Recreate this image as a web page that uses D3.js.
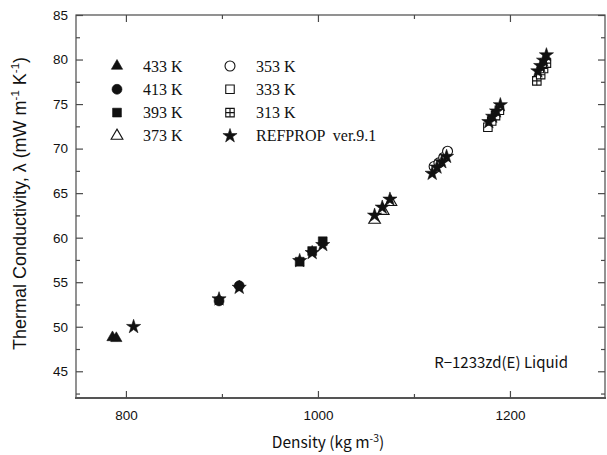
<!DOCTYPE html>
<html>
<head>
<meta charset="utf-8">
<script src="https://cdn.jsdelivr.net/npm/d3@7"></script>
<style>
  body { margin: 0; background: #fff; }
  svg { display: block; }
</style>
</head>
<body>
<script>
// measured points, [density kg/m3, lambda mW/(m K)]
const k433 = [[786, 48.8], [790, 48.7]];
const k413 = [[897, 52.9], [918, 54.6]];
const k393 = [[981, 57.3], [994, 58.5], [1005, 59.6]];
const k373 = [[1059, 62.0], [1068, 63.0], [1076, 64.0]];
const k353 = [[1121, 68.0], [1126, 68.4], [1131, 69.0], [1135, 69.7]];
const k333 = [[1177, 72.4], [1181, 73.1], [1185, 73.7], [1189, 74.3]];
const k313 = [[1228, 77.6], [1232, 78.3], [1235, 79.0], [1238, 79.6]];
// REFPROP ver.9.1 values
const refprop = [
  [808, 50.0], [897, 53.1], [918, 54.4],
  [981, 57.4], [994, 58.3], [1005, 59.2],
  [1059, 62.5], [1067, 63.4], [1075, 64.3],
  [1119, 67.2], [1124, 67.9], [1129, 68.5], [1134, 69.1],
  [1178, 73.0], [1182, 73.6], [1186, 74.2], [1190, 74.9],
  [1229, 78.7], [1232, 79.3], [1235, 79.9], [1238, 80.5]
];

const xMajor = [800, 1000, 1200];
const xMinor = [900, 1100];
const yMajor = [45, 50, 55, 60, 65, 70, 75, 80, 85];
const yMinor = [42.5, 47.5, 52.5, 57.5, 62.5, 67.5, 72.5, 77.5, 82.5];

const config = {
  width: 607,
  height: 455,
  left: 76,
  right: 605,
  top: 15,
  bottom: 398,
  frame: '#4a4a4a',
  ink: '#111',
};

let svg = d3.select('body').append('svg')
  .attr('width', config.width)
  .attr('height', config.height);

let x = d3.scaleLinear().domain([748, 1299]).range([config.left, config.right]);
let y = d3.scaleLinear().domain([42, 85]).range([config.bottom, config.top]);

// frame
svg.append('rect')
  .attr('x', config.left).attr('y', config.top)
  .attr('width', config.right - config.left)
  .attr('height', config.bottom - config.top)
  .style('fill', 'none')
  .style('stroke', config.frame)
  .style('stroke-width', 1.2);

svg.append('line')
  .attr('x1', config.left - 1).attr('x2', config.right + 1)
  .attr('y1', config.bottom).attr('y2', config.bottom)
  .style('stroke', '#555')
  .style('stroke-width', 2.2);

// axes, ticks pointing inward
function styleAxis(g) {
  g.select('.domain').remove();
  g.selectAll('.tick line').style('stroke', config.frame).style('stroke-width', 1.2);
  g.selectAll('.tick text')
    .style('font-family', '"Liberation Sans", Arial, sans-serif')
    .style('font-size', '13.5px')
    .style('fill', config.ink);
}

svg.append('g').attr('transform', `translate(${config.left},0)`)
  .call(d3.axisLeft(y).tickValues(yMajor).tickSize(-7).tickPadding(8).tickFormat(d3.format('d')))
  .call(styleAxis);
svg.append('g').attr('transform', `translate(${config.left},0)`)
  .call(d3.axisLeft(y).tickValues(yMinor).tickSize(-4).tickFormat(''))
  .call(styleAxis);
svg.append('g').attr('transform', `translate(${config.right},0)`)
  .call(d3.axisRight(y).tickValues(yMajor).tickSize(-7).tickFormat(''))
  .call(styleAxis);
svg.append('g').attr('transform', `translate(${config.right},0)`)
  .call(d3.axisRight(y).tickValues(yMinor).tickSize(-4).tickFormat(''))
  .call(styleAxis);

svg.append('g').attr('transform', `translate(0,${config.bottom})`)
  .call(d3.axisBottom(x).tickValues(xMajor).tickSize(-7).tickPadding(12).tickFormat(d3.format('d')))
  .call(styleAxis);
svg.append('g').attr('transform', `translate(0,${config.bottom})`)
  .call(d3.axisBottom(x).tickValues(xMinor).tickSize(-4).tickFormat(''))
  .call(styleAxis);
svg.append('g').attr('transform', `translate(0,${config.top})`)
  .call(d3.axisTop(x).tickValues(xMajor).tickSize(-7).tickFormat(''))
  .call(styleAxis);
svg.append('g').attr('transform', `translate(0,${config.top})`)
  .call(d3.axisTop(x).tickValues(xMinor).tickSize(-4).tickFormat(''))
  .call(styleAxis);

// axis titles
let yTitle = svg.append('text')
  .attr('transform', `translate(26,${(config.top + config.bottom) / 2 - 3}) rotate(-90)`)
  .attr('text-anchor', 'middle')
  .style('font-family', '"Liberation Sans", Arial, sans-serif')
  .style('font-size', '18px')
  .style('fill', config.ink);
yTitle.append('tspan').text('Thermal Conductivity, λ (mW m');
yTitle.append('tspan').attr('dy', -7).style('font-size', '11.5px').text('-1');
yTitle.append('tspan').attr('dy', 7).text(' K');
yTitle.append('tspan').attr('dy', -7).style('font-size', '11.5px').text('-1');
yTitle.append('tspan').attr('dy', 7).text(')');

let xTitle = svg.append('text')
  .attr('x', 328).attr('y', 448)
  .attr('text-anchor', 'middle')
  .style('font-family', '"Noto Sans CJK JP", "DejaVu Sans", sans-serif')
  .style('font-size', '15.5px')
  .style('fill', config.ink);
xTitle.append('tspan').text('Density (kg m');
xTitle.append('tspan').attr('dy', -6).style('font-size', '10.5px').text('-3');
xTitle.append('tspan').attr('dy', 6).text(')');

svg.append('text')
  .attr('x', 568).attr('y', 368)
  .attr('text-anchor', 'end')
  .style('font-family', '"Noto Sans CJK JP", "DejaVu Sans", sans-serif')
  .style('font-size', '15px')
  .style('fill', config.ink)
  .text('R−1233zd(E) Liquid');

// markers
const shapes = {
  tri: { type: d3.symbolTriangle, size: 55, fill: true },
  circ: { type: d3.symbolCircle, size: 78, fill: true },
  sq: { type: d3.symbolSquare, size: 78, fill: true },
  otri: { type: d3.symbolTriangle, size: 60, fill: false },
  ocirc: { type: d3.symbolCircle, size: 78, fill: false },
  osq: { type: d3.symbolSquare, size: 72, fill: false },
  xsq: { type: d3.symbolSquare, size: 72, fill: false, cross: true },
  star: { type: d3.symbolStar, size: 62, fill: true },
};

function drawMarker(g, shape, cx, cy) {
  let s = shapes[shape];
  let m = g.append('g').attr('transform', `translate(${cx},${cy})`);
  m.append('path')
    .attr('d', d3.symbol().type(s.type).size(s.size)())
    .style('fill', s.fill ? config.ink : '#fff')
    .style('stroke', config.ink)
    .style('stroke-width', s.fill ? 0.6 : 1.1);
  if (s.cross) {
    let h = Math.sqrt(s.size) / 2;
    m.append('path')
      .attr('d', `M${-h},0H${h}M0,${-h}V${h}`)
      .style('stroke', config.ink)
      .style('stroke-width', 1.1);
  }
}

const series = [
  { data: k433, shape: 'tri' },
  { data: k413, shape: 'circ' },
  { data: k393, shape: 'sq' },
  { data: k373, shape: 'otri' },
  { data: k353, shape: 'ocirc' },
  { data: k333, shape: 'osq' },
  { data: k313, shape: 'xsq' },
  { data: refprop, shape: 'star' },
];

let points = svg.append('g');
series.forEach((sr) => {
  sr.data.forEach((d) => drawMarker(points, sr.shape, x(d[0]), y(d[1])));
});

// legend
const legendItems = [
  { label: '433 K', shape: 'tri', col: 0, row: 0 },
  { label: '413 K', shape: 'circ', col: 0, row: 1 },
  { label: '393 K', shape: 'sq', col: 0, row: 2 },
  { label: '373 K', shape: 'otri', col: 0, row: 3 },
  { label: '353 K', shape: 'ocirc', col: 1, row: 0 },
  { label: '333 K', shape: 'osq', col: 1, row: 1 },
  { label: '313 K', shape: 'xsq', col: 1, row: 2 },
  { label: 'REFPROP  ver.9.1', shape: 'star', col: 1, row: 3 },
];

let legend = svg.append('g');
legendItems.forEach((it) => {
  let lx = 117 + it.col * 113;
  let ly = 66 + it.row * 23.3;
  drawMarker(legend, it.shape, lx, ly);
  legend.append('text')
    .attr('x', lx + 26).attr('y', ly + 5.5)
    .style('font-family', '"Liberation Serif", "Times New Roman", serif')
    .style('font-size', '16px')
    .style('white-space', 'pre')
    .style('fill', config.ink)
    .text(it.label);
});
</script>
</body>
</html>
